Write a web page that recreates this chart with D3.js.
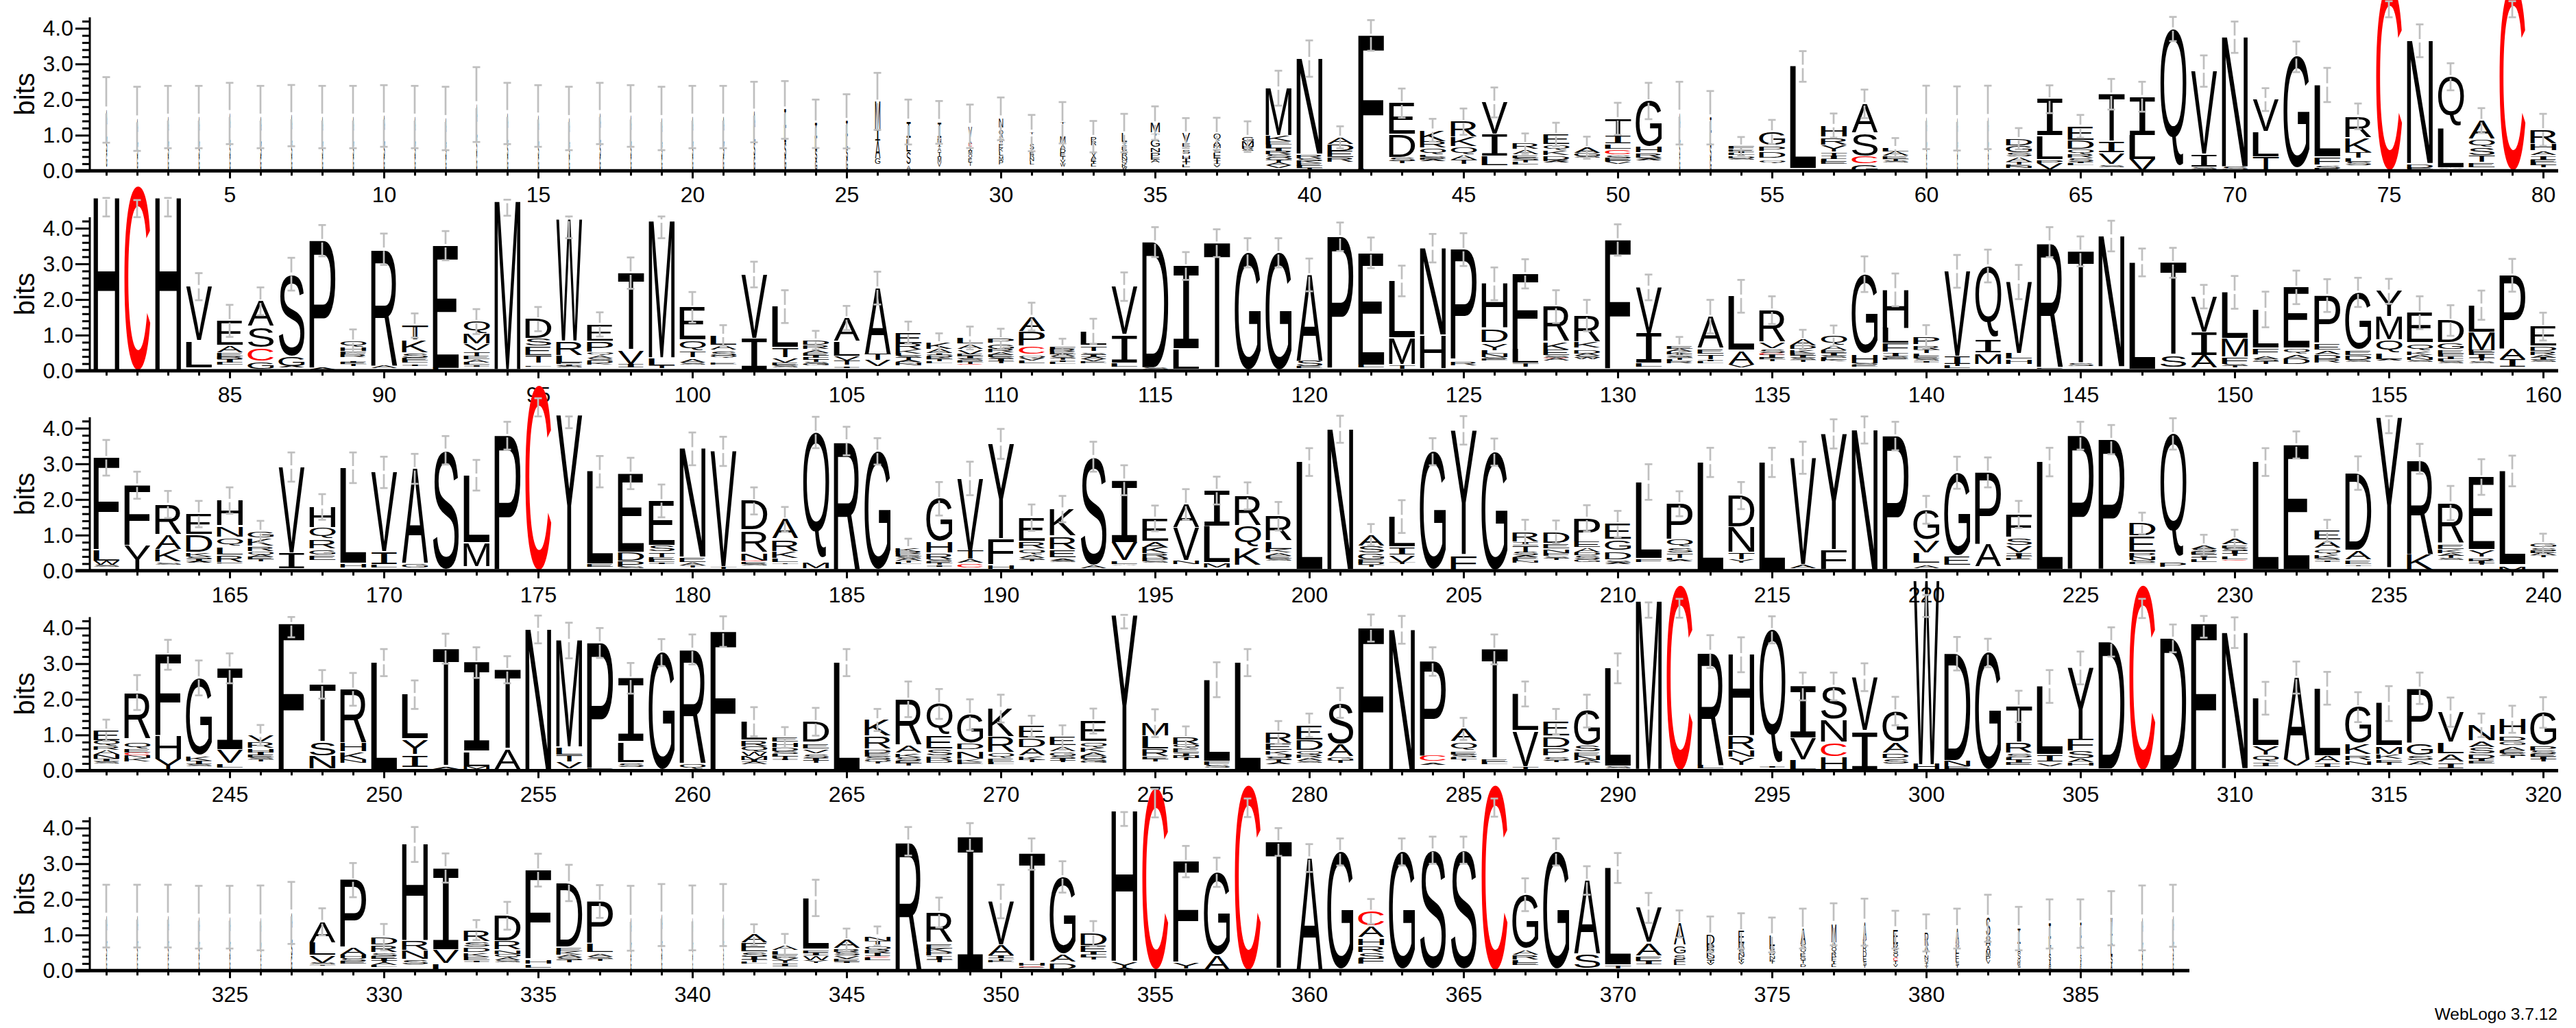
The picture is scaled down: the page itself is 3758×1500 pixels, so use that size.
<!DOCTYPE html>
<html><head><meta charset="utf-8">
<style>html,body{margin:0;background:#fff}svg{display:block}text{font-family:"Liberation Sans",Arial,sans-serif}</style>
<script src="https://cdn.jsdelivr.net/npm/d3@7"></script></head><body>
<svg id="logo" width="3758" height="1500"></svg>
<script>
// Each entry: stack-top bits, error half-length (or lo:hi bar limits), optional w(stack width fraction), letters top-to-bottom with bits ("_" = blank gap).
const row1 = [
"1.71 .92 w.035 A.4 L.4 S.4 G.4","1.46 .9 w.035 A.35 L.35 S.35 G.35","1.51 .875 w.035 A.37 L.37 S.37 G.37","1.51 .875 w.035 A.37 L.37 S.37 G.37","1.61 .86 w.035 A.4 L.4 S.4 G.38",
"1.51 .875 w.04 A.37 L.37 S.37 G.37","1.55 .86 w.035 A.38 L.38 S.38 G.38","1.51 .875 w.035 A.37 L.37 S.37 G.37","1.51 .875 w.035 A.37 L.37 S.37 G.37","1.54 .865 w.04 A.38 L.38 S.38 G.37",
"1.51 .875 w.035 A.37 L.37 S.37 G.37","1.47 .89 w.035 A.36 L.36 S.36 G.36","1.86 1.05 w.03 A.46 L.46 S.46 G.45","1.61 .86 w.035 A.4 L.4 S.4 G.38","1.54 .865 w.035 A.38 L.38 S.38 G.37",
"1.47 .89 w.035 A.36 L.36 S.36 G.36","1.61 .86 w.04 A.4 L.4 S.4 G.38","1.54 .865 w.035 A.38 L.38 S.38 G.37","1.47 .89 w.035 A.36 L.36 S.36 G.36","1.51 .875 w.035 A.37 L.37 S.37 G.37",
"1.51 .875 w.04 A.37 L.37 S.37 G.37","1.65 .85 w.05 A.41 L.41 S.41 G.4","1.71 .81 w.06 I.5 L.4 S.4 G.38","1.32 .68 w.07 I.4 L.32 S.3 G.28","1.39 .76 w.06 I.4 L.35 S.3 G.32",
"1.95 .8 w.2 M.8 I.3 A.5 G.15","1.37 .63 w.16 I.45 _.03 L.35 _.03 S.32 _.03 A.13","1.36 .6 w.14 I.43 _.02 N.12 _.02 I.1 A.13 _.02 I.13 M.15 V.11","1.25 .61 w.14 V.3 _.12 A.07 C.09 I.1 M.11 Q.11 E.11 T.11","1.46 .6 w.16 N.25 _.05 Q.16 A.08 W.13 _.02 E.13 K.1 L.12 M.12 P.12",
"1.06 .51 w.16 T.04 _.26 S.16 _.04 E.1 R.09 N.1 L.09","1.35 .58 w.2 T.04 _.36 M.16 _.04 A.12 D.12 E.1 T.1 V.09 W.09","0.96 .44 w.2 P.12 R.13 _.18 V.1 A.1 E.07 I.07 L.07","1.06 .54 w.2 L.25 _.02 I.1 E.1 S.1 R.1 N.1 Q.09 K.09 W.06","1.34 .47 w.35 M.26 _.04 T.05 _.12 G.19 _.03 N.13 P.13 E.08 A.08",
"1.06 .42 w.3 V.26 _.03 E.1 _.08 S.11 _.05 H.1 I.08 T.08 L.07","1.04 .45 w.27 Q.18 _.02 A.1 M.1 _.05 S.08 L.08 E.08 T.08 I.08 V.08","0.96 .43 w.45 G.13 M.15 R.06 S.06","2.32 .49 M1.31 _.04 K.14 E.09 L.09 I.1 R.09 S.09 Q.07 T.07 A.07 V.08","3.15 .51 N2.66 _.03 R.1 S.08 K.07 E.07 L.06 T.05",
"0.94 .31 A.18 _.02 D.18 E.17 R.13","3.8 .43 F3.76 L.04","1.9 .41 E.85 _.03 D.62 _.02 S.1 T.06","1.14 .32 K.3 R.18 _.02 Q.16 _.03 L.05 S.04 E.05 A.04","1.38 .37 R.42 _.02 K.24 _.03 Q.2 _.03 A.13 T.11",
"1.92 .42 V.88 _.03 I.58 _.03 L.24","0.76 .29 R.14 _.03 A.13 _.03 E.07 S.07 T.06 L.06","1.02 .33 E.26 _.03 Q.13 _.02 K.13 _.03 D.1 R.04 A.04","0.65 .31 A.14 G.1 S.04","1.46 .45 T.48 I.2 _.02 L.13 _.04 C.13 _.02 S.08 E.06 F.05 V.05",
"1.96 .51 G1.26 _.03 H.15 _.03 R.11 S.05 A.04","1.62 .88 w.03 A.4 L.4 S.4 G.38","1.49 .75 w.05 I.4 L.37 S.37 G.35","0.69 .26 F.07 _.02 E.05 I.05 L.05 T.05 D.05 S.04","1.09 .34 G.36 _.04 P.12 _.05 D.14 _.1 Q.05",
"2.93 .43 L2.85","1.27 .34 H.3 _.05 R.18 _.03 Y.16 _.05 T.08 I.08 L.08 E.07","1.88 .4 A.79 _.05 S.62 _.02 C.19 _.05 G.2","0.65 .27 L.1 _.02 A.11 _.03 E.06 T.05 S.05","1.5 .89 w.025 A.37 L.37 S.37 G.37",
"1.47 .9 w.025 A.36 L.36 S.36 G.36","1.5 .89 w.025 A.37 L.37 S.37 G.37","0.9 .3 D.18 _.03 G.17 _.02 S.09 _.03 A.12 _.02 T.06 E.05 N.05","2.01 .39 I1.0 _.04 L.63 _.04 P.08 _.02 V.16","1.25 .32 E.37 _.04 D.21 _.03 Q.11 _.03 R.09 S.11 I.05 L.05",
"2.15 .43 T1.32 _.03 I.27 _.03 V.3 _.03 S.06","2.08 .42 I1.07 _.01 L.66 _.03 V.31","3.98 .34 Q3.82","2.8 .44 V2.31 _.03 I.33 _.03 S.06","3.75 .44 N3.62 _.01 S.1",
"2.0 .32 V.88 _.05 L.66 _.03 T.34","3.2 .43 G3.11","2.41 .48 L2.0 _.03 F.2 _.03 S.08 E.05","1.53 .36 R.58 _.02 K.4 _.03 T.14 L.1 S.1","5.2 4.31:4.76 C5.18",
"3.65 .46 N3.43 _.03 D.1 E.05","2.64 .38 Q1.37 _.08 L1.09 A.03","1.41 .35 A.5 _.04 Q.2 _.03 S.19 _.02 T.17 _.03 E.13","5.2 4.31:4.76 C5.18","1.15 .45 R.37 _.03 H.17 _.04 A.1 _.04 I.08 E.08 L.08 T.06"
];
const row2 = [
"4.85 4.33:4.85 H4.85","5.18 4.31:4.79 C5.16","4.85 4.33:4.85 H4.85","2.36 .38 V1.5 _.05 L.72","1.4 .45 E.67 _.04 A.18 _.01 E.1 B.08 I.08 L.06",
"1.95 .39 A.68 _.06 S.55 _.05 C.33 _.05 G.18","2.71 .46 S2.28 _.05 G.24 A.04","3.65 .44 P3.56 A.05","0.83 .33 Q.15 _.03 H.1 F.08 R.08 _.1 I.05 E.05 T.05","3.41 .44 R3.28 A.06",
"1.27 .34 T.4 _.03 K.32 _.03 S.12 E.08 L.06 _.04 I.05","3.51 .41 E3.43 L.05","1.38 .35 Q.3 _.04 M.28 _.03 V.16 _.03 T.13 E.09 A.08 L.07 I.05","4.75 4.35:4.8 M4.7","1.45 .34 D.53 _.03 S.19 _.04 E.21 _.03 T.2 _.07 L.03",
"4.25 3.72:4.33 W3.4 _.05 R.36 L.2 E.05 I.05 S.04","1.3 .34 E.45 _.03 P.28 _.02 Q.07 _.05 A.06 S.06 D.06 K.05","2.74 .44 T2.15 _.02 V.37 _.03 I.08","4.2 3.72:4.33 M3.82 _.02 L.2 _.02 T.06","1.78 .43 E.9 _.06 Q.24 _.05 T.14 _.06 A.1 S.06",
"0.99 .29 L.25 _.04 A.11 _.04 S.12 Q.06 _.15 E.04","2.7 .36 V1.78 _.02 I.87","1.8 .46 L1.12 _.05 T.24 _.03 V.13 E.07 S.06","0.86 .26 D.12 _.03 R.1 _.03 A.08 _.02 E.06 I.06 L.06 T.06 S.05 G.04","1.48 .34 A.64 _.03 L.38 _.03 V.11 T.12 _.05 I.04",
"2.32 .46 A1.85 T.17 V.17","1.07 .31 E.3 R.18 K.11 L.06 S.06 T.06 A.05 D.05 N.05","0.78 .27 K.16 A.12 I.06 Q.06 E.06 T.05 L.05","0.92 .32 L.15 _.03 A.13 _.03 V.12 E.06 I.06 S.05 F.05 T.04 C.03","0.89 .29 P.11 _.05 G.12 R.1 A.07 E.06 S.06 I.06 T.05",
"1.52 .39 A.4 _.02 P.38 _.05 C.2 _.05 Q.06 V.08 L.06","0.67 .23 F.08 R.06 E.06 A.06 S.06 T.05 I.05 L.05","1.11 .35 L.37 _.05 T.13 _.05 S.06 I.06 A.06 V.06 E.05","2.36 .4 V1.33 _.04 I.76 _.02 L.1","3.61 .42 D3.51 _.02 S.05",
"2.94 .39 I2.31 _.02 L.55","3.58 .39 T3.53","3.31 .41 G3.28","3.31 .41 G3.28","2.69 .46 A2.42 S.14 E.05",
"3.76 .4 P3.67","3.31 .43 E3.14 L.08","2.52 .43 L1.57 _.04 M.72 _.03 T.1","3.44 .4 N2.42 _.03 H.92","3.4 .46 P3.05 _.1 R.1 _.05",
"2.44 .46 H1.23 _.06 D.35 _.05 Y.17 L.1 N.1 S.05 E.05","2.72 .41 F2.1 L.38 _.03 T.1","1.8 .46 R.96 _.06 K.19 E.14 _.02 S.06 C.03 A.06","1.55 .44 R.72 _.03 K.15 _.06 D.1 A.06 S.06 W.05","3.67 .44 F3.6",
"2.34 .36 V1.29 I.82 _.02 L.1","0.69 .26 E.08 A.08 K.06 I.06 S.05 T.05 L.05 R.04","1.52 .47 A.87 _.04 E.13 _.03 T.13 I.05 L.05","2.09 .46 L1.5 _.05 A.36 V.08","1.7 .39 R.88 _.05 V.14 _.04 S.1 C.04 I.08 E.05 T.05",
"0.87 .28 A.16 D.1 _.03 K.1 E.06 I.06 S.06 T.05","0.98 .29 Q.24 _.05 A.12 E.07 I.07 S.06 L.06 K.05","2.71 .5 G2.2 _.08 H.22 S.04 E.05","2.27 .46 H1.06 L.42 _.04 F.22 _.04 I.09 S.05 E.05","0.95 .33 P.2 _.05 R.1 T.1 _.03 L.07 E.06 S.06 I.05",
"2.79 .46 V2.36 _.04 I.2 T.06 L.06","2.94 .46 Q1.98 _.1 I.34 _.04 M.28","2.49 .48 V1.99 _.02 L.14 _.03 H.12","3.61 .42 R3.5 _.03 E.02","3.35 .42 T3.14 S.08",
"3.78 .43 N3.65","3.04 .39 L2.98","3.03 .42 T2.59 _.02 S.3","2.08 .33 V.98 _.01 I.64 _.02 A.33","2.2 .46 L1.28 _.04 M.48 _.03 F.17 S.06 T.05",
"1.72 .5 L1.06 _.05 F.15 _.05 A.08 S.07 T.06","2.34 .47 E1.69 _.04 Q.11 _.05 A.1 D.15","2.11 .46 P1.3 _.06 E.15 _.04 A.1 D.13 R.1","2.2 .41 G1.58 _.05 E.13 D.13 S.06","2.23 .35 Y.7 _.02 M.63 _.05 Q.3 _.05 L.15 A.05",
"1.63 .46 E.83 _.07 Q.14 _.05 K.1 A.07 N.07 S.06","1.41 .43 D.61 _.04 G.15 _.03 E.1 F.08 I.07 L.06 S.06","1.84 .41 L.74 _.05 M.48 E.06 F.07 I.08 T.08 S.06","2.68 .46 P2.05 _.01 A.3 _.01 I.2","1.24 .39 E.53 _.03 D.13 R.1 _.03 A.06 I.06 S.05"
];
const row3 = [
"3.17 .5 F2.55 _.03 L.3 W.13 S.05","2.4 .38 F1.67 _.03 Y.66","1.86 .38 R.82 _.05 A.38 _.03 K.32 _.05 S.04","1.59 .37 E.56 _.03 D.47 _.03 K.1 S.07 I.06 A.05","1.97 .37 H.69 _.05 N.28 _.05 Q.2 _.05 L.2 _.04 R.17 E.03",
"1.1 .3 G.16 _.03 K.2 _.03 R.13 _.03 Q.08 A.06 E.06 T.05","2.91 .41 V2.4 _.02 I.42","1.79 .36 H.56 _.03 Q.29 _.05 R.22 _.05 G.13 _.02 E.13","2.89 .43 L2.66 _.03 H.1","2.76 .44 V2.21 _.05 I.32 _.03 L.06",
"2.86 .42 A2.63 _.03 G.1","3.38 .4 S3.34","2.68 .43 L1.87 _.03 M.64","3.79 .39 P3.74","5.2 4.33:4.84 C5.18",
"4.37 4.0:4.33 Y4.33","2.78 .44 L2.58 _.03 E.06","2.73 .44 E2.19 _.03 D.23 _.02 P.14 S.04","1.96 .46 E1.23 _.03 S.15 _.04 T.13 E.08 L.06 I.05","3.42 .46 N3.02 _.02 E.13 _.04 A.06 T.05",
"3.35 .41 V3.22 _.03 T.05","1.96 .38 D.8 _.06 R.57 _.04 N.2 C.02 _.03 E.05 S.05","1.44 .35 A.53 _.06 R.29 _.02 K.18 _.02 L.1 _.02 T.03","3.88 .44 Q3.5 _.15 M.15","3.64 .4 R3.6",
"3.35 .37 G3.3","0.64 .26 K.1 R.07 E.07 S.06 A.06 T.05 L.05","2.02 .47 G1.18 _.04 H.29 _.03 R.15 _.02 S.05 E.05 T.05 I.04","2.59 .47 V2.03 _.02 T.21 _.02 A.09 _.03 C.1","3.56 .42 Y2.64 _.06 F.68 _.03 H.09",
"1.49 .37 E.64 _.06 R.16 _.03 Q.13 _.03 A.07 S.06 T.05","1.73 .37 K.74 _.05 R.32 _.03 E.2 _.05 A.05 S.05","3.2 .42 S3.03 _.02 A.08","2.54 .42 I1.73 _.02 V.48 _.05 L.08 A.03","1.47 .36 E.62 _.05 A.15 K.16 R.13 P.09 S.05",
"1.86 .43 A.64 _.01 V.9 _.03 N.09","2.25 .39 I.99 _.02 L1.0 _.02 M.13","2.1 .38 R.82 _.02 Q.57 _.06 K.46","1.53 .4 R.67 _.06 L.19 K.1 _.03 A.07 E.07 S.06","3.05 .39 L3.0",
"3.97 .38 N3.92","1.01 .3 A.3 _.02 S.18 _.03 G.15 E.1 D.06 T.05","1.52 .46 L.84 _.04 I.18 _.03 V.2 T.05","3.34 .38 G3.3","3.94 .4 Y3.47 _.06 F.37",
"3.33 .38 G3.3","1.08 .35 R.25 _.03 I.1 T.18 S.09 A.05 E.05 L.05 N.05","1.09 .32 D.3 _.03 E.13 _.04 N.1 F.08 S.06 T.05","1.47 .37 P.64 _.03 E.14 _.04 A.11 D.08 S.1 G.08","1.31 .37 E.41 _.06 G.26 _.06 D.2 _.04 S.05 A.05",
"2.49 .5 L2.12 _.05 F.08","1.88 .35 P.98 _.04 Q.18 _.03 S.13 _.03 T.13 L.05 A.05","3.04 .41 L3.0","2.11 .38 D.86 _.03 N.69 _.04 T.17 Y.1","3.04 .41 L3.0",
"3.17 .45 V2.98 _.02 A.09","3.84 .41 Y3.23 _.04 F.52","3.95 .38 N3.92","3.78 .4 P3.73","1.71 .39 G.82 _.06 V.31 _.04 L.26 _.06 A.08",
"2.75 .45 G2.31 _.05 E.22","2.76 .42 P1.99 _.03 A.61","1.58 .38 F.62 _.07 S.17 _.04 V.16 _.04 I.07 T.06 E.05","3.05 .4 L3.0","3.79 .39 P3.73",
"3.68 .41 P3.62","1.33 .3 D.33 _.04 E.42 _.04 P.1 N.09 S.08 L.04","3.84 .44 Q3.42 _.18 P.13","0.72 .29 A.1 S.09 _.01 E.07 I.07 T.07 L.06","0.88 .27 A.14 _.02 E.08 S.08 I.08 T.07 _.03 L.06 C.03",
"3.05 .39 L3.0","3.53 .38 E3.48","1.12 .31 E.24 _.04 A.19 _.05 Q.12 _.04 K.09 S.05 I.05","2.74 .47 D2.15 _.04 A.23 _.04 E.09 _.03 T.03","4.3 3.86:4.34 Y4.2",
"3.14 .42 R2.66 _.03 K.41","1.9 .48 R1.1 _.08 E.11 _.02 K.1 A.07 T.06 S.05","2.63 .5 E2.01 _.06 Y.16 _.05 R.08 I.06 T.05","2.8 .43 L2.61 _.06 M.13","0.76 .28 G.1 _.04 S.07 E.06 A.06 T.05"
];
const row4 = [
"1.13 .3 E.27 Q.15 _.03 R.1 A.13 N.12 I.07 S.06","2.19 .49 R1.27 _.15 Q.14 _.03 E.09 C.08 N.08 K.1","3.25 .42 F2.27 _.02 H.63 Y.32","2.6 .49 G2.14 _.06 K.12 _.02 I.08 S.05","2.87 .42 I2.26 _.02 V.37 _.03 L.1",
"0.99 .29 V.17 _.03 R.15 _.03 H.1 I.08 E.06 S.06 T.05","4.12 3.74:4.31 F4.08","2.42 .4 T1.6 _.03 S.36 _.01 N.35","2.28 .46 R1.49 _.03 H.21 _.03 K.2 N.1","3.03 .38 L3.0",
"2.13 .4 L1.22 _.06 Y.39 _.06 I.3","3.42 .42 T3.31 _.02 A.05","3.03 .43 I2.47 _.04 L.39 _.01 M.07","2.83 .38 T2.22 _.01 A.55","3.96 .39 N3.92",
"3.65 .5 M2.97 _.03 L.2 _.03 T.16 _.03 V.16","3.58 .42 P3.5 _.01 E.03","2.59 .43 I1.76 _.05 L.54 _.03 S.1","3.31 .38 G3.27","3.4 .42 R3.19 _.03 Q.12",
"3.9 .43 F3.87","1.37 .41 L.5 _.03 R.15 _.02 Q.14 W.12 M.11 I.06 A.06","0.93 .29 E.11 _.03 H.13 _.03 D.09 S.08 L.06 T.06 I.05","1.37 .39 D.56 _.06 E.13 _.04 V.1 _.03 S.1 I.07 T.06","3.03 .38 L3.0",
"1.42 .31 K.43 _.05 R.31 _.04 D.1 E.1 S.07 Q.07 T.05","2.0 .5 R1.27 _.03 A.2 _.03 K.1 S.1 E.07 T.06","1.87 .42 Q.84 _.07 E.34 _.04 S.15 _.03 R.1 D.08","1.57 .43 G.78 _.05 D.14 _.06 N.2 _.03 K.07 E.05","1.74 .39 K.77 _.03 R.41 _.03 Q.13 _.04 E.09 L.05",
"1.24 .3 E.31 _.03 D.23 _.04 A.2 _.03 K.1 T.06","0.93 .34 E.22 _.05 A.12 _.03 G.1 S.07 I.06 T.05","1.39 .35 E.56 _.04 Q.13 _.03 K.11 A.1 D.08 S.08 G.05","4.36 3.99:4.37 Y4.33","1.33 .39 M.34 _.03 L.34 R.2 _.05 E.06 T.06",
"0.92 .32 R.19 Q.08 _.03 E.11 _.02 I.07 N.06 T.06","2.55 .49 L2.27 _.02 F.09 S.08","3.03 .38 L3.0","1.07 .32 R.3 _.03 E.16 _.03 K.1 J.08 S.07 T.06 A.05","1.27 .33 E.39 _.03 D.26 _.05 Q.09 R.1 A.08 S.06",
"1.9 .42 S1.13 _.04 A.32 _.03 G.1 T.07","4.0 .38 F3.97","3.95 .39 N3.92","3.06 .4 P2.63 C.16 _.05 A.05","1.17 .31 A.33 _.06 Q.19 _.06 E.08 S.08 L.05 T.05",
"3.4 .42 T3.07 _.02 E.08 L.05","2.15 .35 L1.01 _.05 V.97 _.04 T.06","1.37 .36 E.38 _.06 D.26 _.03 P.2 _.05 S.11 T.05","1.67 .46 G.95 _.04 S.14 _.03 E.1 N.11 A.07 T.06","2.87 .42 L2.73 _.02 S.06",
"4.75 4.29:4.72 M4.7","5.2 4.29:4.82 C5.18","3.34 .46 R3.18 _.01 L.09","3.25 .49 H2.27 _.02 R.36 _.03 N.18 _.03 Y.19","3.95 .38 Q3.72 _.1 I.05",
"2.36 .39 I1.43 _.03 V.58 _.03 L.26","2.36 .39 S.9 _.06 N.58 _.05 C.36 _.04 H.34","2.62 .39 V1.48 _.06 I1.07","1.67 .4 G.84 _.06 A.26 _.03 D.13 _.03 S.13","5.33 4.31:4.93 W5.15 H.14",
"3.28 .47 D2.98 _.03 N.14 _.03 E.06","3.3 .4 G3.26","1.8 .44 T1.0 _.03 R.26 _.03 S.1 L.08 I.08 E.06","2.36 .46 L1.89 _.06 I.16 _.06 V.07","2.88 .46 Y1.99 F.32 _.03 S.19 _.02 A.1 H.08",
"3.61 .41 D3.55","5.2 4.28:4.82 C5.18","3.71 .39 D3.67","4.12 3.73:4.34 F4.08","3.87 .43 N3.8",
"2.03 .46 L1.31 _.05 Y.22 _.03 Q.16 _.03 I.1","2.61 .45 A2.29 V.17","2.31 .46 L1.88 _.04 A.16 _.03 I.1","1.78 .42 G1.0 _.05 K.27 _.03 R.13 _.03 N.1","1.88 .49 L1.17 _.05 M.19 _.03 K.11 _.04 F.07 T.06",
"2.31 .44 P1.51 _.06 G.29 _.03 S.13 _.03 A.1","1.64 .41 V.83 _.03 L.29 _.05 A.19 _.06 I.13","1.27 .33 N.42 _.03 A.15 _.03 S.15 _.03 D.13 I.07 E.06","1.44 .38 H.42 _.06 D.13 G.11 _.06 A.1 E.08 S.07 T.06","1.63 .43 G.9 _.03 P.13 S.11 E.07 I.07 T.06"
];
const row5 = [
"1.53 .88 w.03 A.38 L.38 S.38 G.38","1.53 .88 w.03 A.38 L.38 S.38 G.38","1.53 .88 w.03 A.38 L.38 S.38 G.38","1.5 .88 w.03 A.37 L.37 S.37 G.37","1.5 .88 w.03 A.37 L.37 S.37 G.37",
"1.48 .91 w.025 A.37 L.37 S.37 G.36","1.62 .87 w.04 A.4 L.4 S.4 G.4","1.37 .38 A.57 _.03 L.33 _.03 V.2 S.04 T.03","2.54 .48 P1.86 _.03 A.2 H.1 S.1 E.06","0.94 .37 D.2 _.04 R.18 _.03 S.08 E.07 I.06 T.06 A.06 L.05",
"3.54 .49 H2.69 _.02 R.24 _.03 N.22 _.03 S.13","2.88 .41 I2.27 _.03 V.36 _.03 L.18","1.14 .28 R.3 _.03 S.13 _.04 D.12 _.03 K.1 E.1 I.05","1.54 .39 D.68 _.04 R.21 _.04 N.1 Q.1 A.08 S.06","2.82 .46 F2.47 _.05 H.1 _.03 L.08",
"2.46 .51 D1.78 _.03 E.1 K.1 A.08 S.07 T.06","1.94 .46 P1.15 _.03 L.23 _.06 A.08 S.06 T.05","1.47 .91 w.03 A.37 L.37 S.37 G.36","1.56 .87 w.03 A.39 L.39 S.39 G.39","1.48 .91 w.02 A.37 L.37 S.37 G.37",
"1.56 .87 w.02 A.39 L.39 S.39 G.39","1.0 .3 A.21 _.04 E.21 _.03 S.12 I.08 T.07 L.05","0.7 .33 A.12 _.04 L.1 E.08 V.08 T.07 _.02 I.06","2.04 .51 L1.41 _.06 F.08 I.07 W.13 _.01 Y.07","0.86 .32 A.21 _.04 R.08 S.1 _.02 V.08 E.07 I.05",
"0.97 .27 N.13 T.1 _.05 Q.1 R.1 I.08 C.03 L.08","3.63 .4 R3.6","1.63 .42 R.82 _.06 E.12 K.11 P.1 _.03 I.08 T.08","3.75 .39 I3.72","1.94 .47 V1.2 _.03 A.29 I.06 _.03 T.05 E.05",
"3.27 .44 T3.04 H.08 _.02 C.02 E.03","2.63 .44 G2.13 _.05 A.2 _.06 D.14","1.04 .35 D.32 _.03 E.16 I.08 L.08 T.06","4.48 4.06:4.45 H4.2 _.04 Y.15 _.03 A.04","5.12 4.3:5.1 C5.08",
"3.06 .44 F2.81 _.04 Y.15","2.76 .41 G2.3 _.04 A.39","5.2 4.31:4.83 C5.18","3.61 .39 T3.58","3.16 .39 A3.13",
"3.33 .38 G3.28","1.66 .35 C.39 _.04 A.29 _.05 H.17 _.04 R.15 _.04 S.15 F.14","3.33 .38 G3.28","3.38 .38 S3.33","3.38 .38 S3.33",
"5.2 4.32:4.83 C5.18","2.13 .46 G1.49 _.06 A.13 R.13 _.02 L.08 E.06","3.33 .38 G3.28","2.53 .4 A2.04 _.03 S.38","2.88 .42 L2.71 _.04 T.07",
"1.76 .42 V.95 _.06 A.32 _.04 E.12 I.1","1.31 .38 w.45 A.58 _.06 G.19 _.03 S.13 E.08 L.08","1.02 .5 w.3 D.28 B.08 E.08 R.08 K.08 N.07 S.07 T.06 V.06","1.11 .5 w.22 E.33 R.1 D.1 S.1 N.09 K.08 T.08 V.06","1.0 .49 w.2 L.3 E.1 S.1 R.08 N.08 K.08 T.06",
"1.18 .56 w.2 A.45 S.12 Q.12 E.1 G.1 T.1 D.08","1.3 .59 w.18 M.5 A.14 Q.14 R.12 F.12 I.1 L.08","1.36 .66 w.13 A.5 K.16 R.16 D.14 E.14 S.1 T.08","1.15 .53 w.18 E.4 R.14 S.12 Q.12 C.1 T.1 V.07","1.06 .52 w.14 R.36 A.14 Y.12 N.12 Q.1 T.1 Y.06",
"1.18 .56 w.13 A.42 Q.14 L.14 E.14 L.1 S.08 T.08","1.47 .66 w.16 S.5 Q.14 H.14 A.14 M.14 P.12 V.1","1.18 .61 w.11 I.42 T.14 A.14 S.14 G.1 R.08 S.08","1.31 .69 w.07 I.4 L.24 T.2 S.2 A.14 G.1","1.32 .68 w.04 I.4 L.26 T.2 S.2 A.14 G.1",
"1.47 .76 w.06 V.45 I.3 L.3 S.22 A.18","1.48 .91 w.03 A.37 L.37 S.37 G.37","1.54 .87 w.03 A.39 L.39 S.38 G.38"
];
const rows = [row1, row2, row3, row4, row5];
const rowFirstPos = [1, 81, 161, 241, 321];
const rowZero = [249.3, 541, 832.8, 1124.4, 1416.3];
const rowAxisEnd = [3732, 3732, 3732, 3732, 3194];
const yMajor = [0, 1, 2, 3, 4];
const yMinor = [0.2,0.4,0.6,0.8,1.2,1.4,1.6,1.8,2.2,2.4,2.6,2.8,3.2,3.4,3.6,3.8,4.2];

const svg = d3.select("#logo");
const ctx = document.createElement("canvas").getContext("2d");
const glyph = {};
const fontOf = ch => ch === "I" ? "Liberation Mono" : "Liberation Sans";
function metric(ch) {
  if (!glyph[ch]) {
    ctx.font = `100px "${fontOf(ch)}"`;
    const m = ctx.measureText(ch);
    glyph[ch] = { l: m.actualBoundingBoxLeft, r: m.actualBoundingBoxRight, a: m.actualBoundingBoxAscent, d: m.actualBoundingBoxDescent };
  }
  return glyph[ch];
}
function parse(s, pos) {
  const t = s.split(" ");
  const top = +t[0];
  let lo, hi;
  if (t[1].includes(":")) { [lo, hi] = t[1].split(":").map(Number); }
  else { lo = top - +t[1]; hi = top + +t[1]; }
  let i = 2, w = 1;
  if (t[2] && t[2][0] === "w") { w = +t[2].slice(1); i = 3; }
  const letters = [];
  let c = top;
  for (; i < t.length; i++) {
    const h = +t[i].slice(1);
    if (t[i][0] !== "_") letters.push({ ch: t[i][0], hi: c, lo: c - h });
    c -= h;
  }
  return { pos, top, lo, hi, w, letters };
}
const FULL = 38;
rows.forEach((raw, r) => {
  const first = rowFirstPos[r], zero = rowZero[r];
  const x = d3.scaleLinear().domain([first, first + 79]).range([155, 3710]);
  const y = d3.scaleLinear().domain([0, 4]).range([zero, zero - 208]);
  const data = raw.map((s, i) => parse(s, first + i));
  const g = svg.append("g");

  // letters
  const flat = data.flatMap(d => d.letters.map(l => ({ ...l, pos: d.pos, w: d.w })));
  g.append("g").selectAll("text").data(flat).join("text")
    .text(d => d.ch)
    .attr("font-size", 100)
    .style("font-family", d => `"${fontOf(d.ch)}"`)
    .attr("fill", d => d.ch === "C" ? "#ff0000" : "#000")
    .attr("transform", d => {
      const m = metric(d.ch);
      const bw = FULL * d.w, left = x(d.pos) - bw / 2 + 0.5;
      const sx = bw / (m.l + m.r);
      const sy = (y(d.lo) - y(d.hi)) / (m.a + m.d);
      return `translate(${left + m.l * sx},${y(d.hi) + m.a * sy}) scale(${sx},${sy})`;
    })
    .attr("stroke", d => d.w < 0.1 ? "#000" : "none")
    .attr("stroke-width", d => d.w < 0.1 ? 4 : 0);

  // x axis
  const xAxis = d3.axisBottom(x).tickValues(d3.range(first, first + raw.length))
    .tickSizeOuter(0).tickPadding(0).tickFormat(d => d % 5 === 0 ? d : "");
  const ax = g.append("g").attr("transform", `translate(0,${zero})`).call(xAxis);
  ax.select(".domain").remove();
  ax.append("line").attr("x1", 110).attr("x2", rowAxisEnd[r]).attr("stroke", "#000").attr("stroke-width", 5);
  ax.selectAll(".tick line").attr("stroke-width", 3).attr("y2", d => d % 5 === 0 ? 11 : 7);
  ax.selectAll(".tick text").attr("font-size", 32).attr("font-family", '"Liberation Sans"').attr("fill", "#000").attr("dy", 0).attr("y", 46);

  // y axis
  const yAxis = d3.axisLeft(y).tickValues(yMajor.concat(yMinor)).tickSizeOuter(0).tickPadding(3)
    .tickFormat(d => yMajor.includes(d) ? d.toFixed(1) : "");
  const ay = g.append("g").attr("transform", "translate(131,0)").call(yAxis);
  ay.select(".domain").remove();
  ay.append("line").attr("y1", zero).attr("y2", zero - 224).attr("stroke", "#000").attr("stroke-width", 3);
  ay.selectAll(".tick line").attr("stroke-width", 3).attr("x2", d => yMajor.includes(d) ? -21 : -11);
  ay.selectAll(".tick text").attr("font-size", 32).attr("font-family", '"Liberation Sans"').attr("fill", "#000").attr("x", -24);
  g.append("text").text("bits").attr("font-size", 40).attr("text-anchor", "middle")
    .attr("transform", `translate(50,${zero - 112}) rotate(-90)`);

  // error bars
  const GREY = "#bfbfbf";
  const bars = g.append("g").selectAll("g").data(data).join("g").attr("stroke", GREY).attr("stroke-width", 2.7);
  const gap = d => d.w < 0.2 ? 5 : 2.5;
  bars.append("line").attr("x1", d => x(d.pos)).attr("x2", d => x(d.pos))
    .attr("y1", d => y(d.hi)).attr("y2", d => Math.min(y(d.lo), Math.max(y(d.hi), y(d.top) - gap(d))));
  bars.append("line").attr("x1", d => x(d.pos)).attr("x2", d => x(d.pos))
    .attr("y1", d => Math.max(y(d.hi), Math.min(y(d.lo), y(d.top) + gap(d)))).attr("y2", d => y(d.lo));
  bars.append("line").attr("x1", d => x(d.pos) - 5.5).attr("x2", d => x(d.pos) + 5.5).attr("y1", d => y(d.hi)).attr("y2", d => y(d.hi));
  bars.append("line").attr("x1", d => x(d.pos) - 5.5).attr("x2", d => x(d.pos) + 5.5).attr("y1", d => y(d.lo)).attr("y2", d => y(d.lo));
});
svg.append("text").text("WebLogo 3.7.12").attr("font-size", 24.5).attr("text-anchor", "end").attr("x", 3731).attr("y", 1488);
</script></body></html>
